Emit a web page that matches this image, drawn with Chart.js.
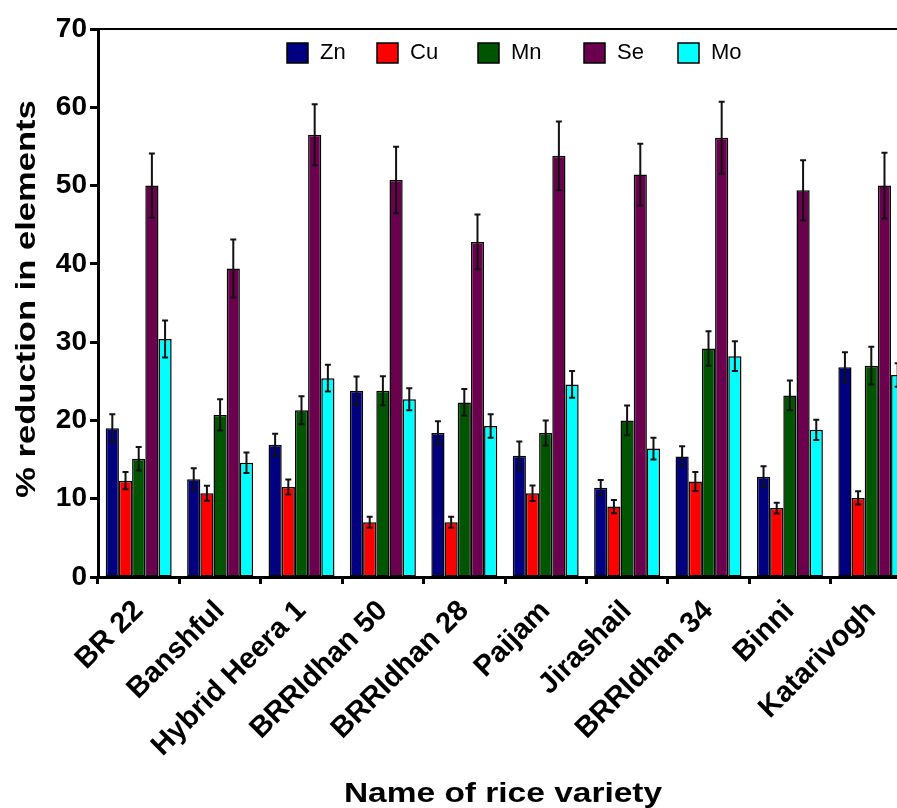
<!DOCTYPE html>
<html>
<head>
<meta charset="utf-8">
<script src="https://cdn.jsdelivr.net/npm/chart.js@4/dist/chart.umd.min.js"></script>
<style>
  html, body { margin: 0; padding: 0; background: #fff; overflow: hidden; }
  #wrap { width: 912px; height: 808px; }
</style>
</head>
<body>
<div id="wrap"><canvas id="chart" width="912" height="808"></canvas></div>
<script>
// Rice varieties on the x axis
const categories = ['BR 22', 'Banshful', 'Hybrid Heera 1', 'BRRIdhan 50', 'BRRIdhan 28',
                    'Paijam', 'Jirashail', 'BRRIdhan 34', 'Binni', 'Katarivogh'];

// % reduction per element (mean) and its error
const zn    = [19.0, 12.5, 16.9, 23.8, 18.4, 15.5, 11.4, 15.4, 12.8, 26.8];
const znErr = [1.8, 1.4, 1.4, 1.8, 1.5, 1.8, 1.0, 1.3, 1.35, 1.9];
const cu    = [12.3, 10.7, 11.5, 7.0, 7.0, 10.7, 9.0, 12.2, 8.8, 10.1];
const cuErr = [1.1, 0.95, 0.95, 0.7, 0.7, 1.0, 0.85, 1.2, 0.7, 0.85];
const mn    = [15.1, 20.7, 21.3, 23.8, 22.3, 18.4, 20.0, 29.2, 23.2, 27.0];
const mnErr = [1.5, 2.0, 1.8, 1.85, 1.7, 1.6, 1.9, 2.2, 1.9, 2.4];
const se    = [50.0, 39.4, 56.5, 50.7, 42.8, 53.8, 51.4, 56.1, 49.4, 50.0];
const seErr = [4.1, 3.7, 3.9, 4.25, 3.5, 4.4, 3.95, 4.6, 3.85, 4.2];
const mo    = [30.4, 14.6, 25.4, 22.7, 19.3, 24.6, 16.4, 28.2, 18.8, 25.8];
const moErr = [2.35, 1.3, 1.7, 1.4, 1.5, 1.7, 1.4, 1.9, 1.3, 1.5];

const seriesNames = ['Zn', 'Cu', 'Mn', 'Se', 'Mo'];
const yTicks = [0, 10, 20, 30, 40, 50, 60, 70];
const xTitle = 'Name of rice variety';
const yTitle = '% reduction in elements';

const FONT = "'Liberation Sans', Arial, Helvetica, sans-serif";
const colors = ['#000080', '#FF0000', '#005500', '#6B004F', '#00FFFF'];
const values = [zn, cu, mn, se, mo];
const errors = [znErr, cuErr, mnErr, seErr, moErr];

const datasets = seriesNames.map((name, i) => ({
  label: name,
  data: values[i],
  errors: errors[i],
  backgroundColor: colors[i],
  borderColor: '#000',
  borderWidth: 1.5,
  borderSkipped: false,
  categoryPercentage: 0.81,
  barPercentage: 1.0
}));

// Whiskers above and below each bar
const errorBars = {
  id: 'errorBars',
  afterDatasetsDraw(chart) {
    const ctx = chart.ctx;
    const y = chart.scales.y;
    ctx.save();
    ctx.strokeStyle = '#111';
    ctx.lineWidth = 2;
    chart.data.datasets.forEach((ds, di) => {
      const meta = chart.getDatasetMeta(di);
      meta.data.forEach((bar, j) => {
        const v = ds.data[j], e = ds.errors[j];
        const yTop = y.getPixelForValue(v + e);
        const yBot = y.getPixelForValue(v - e);
        const cap = 3;
        ctx.beginPath();
        ctx.moveTo(bar.x, yTop); ctx.lineTo(bar.x, yBot);
        ctx.moveTo(bar.x - cap, yTop); ctx.lineTo(bar.x + cap, yTop);
        ctx.moveTo(bar.x - cap, yBot); ctx.lineTo(bar.x + cap, yBot);
        ctx.stroke();
      });
    });
    ctx.restore();
  }
};

// Top frame line, legend inside the plot area, and the wide axis titles
const frameAndLegend = {
  id: 'frameAndLegend',
  afterDraw(chart, args, opts) {
    const ctx = chart.ctx;
    const a = chart.chartArea;
    ctx.save();
    ctx.strokeStyle = '#000';
    ctx.lineWidth = 2;
    ctx.beginPath();
    ctx.moveTo(a.left, a.top);
    ctx.lineTo(a.right, a.top);
    ctx.stroke();

    ctx.font = '22px ' + FONT;
    ctx.textBaseline = 'middle';
    ctx.textAlign = 'left';
    chart.data.datasets.forEach((ds, i) => {
      const bx = opts.boxX[i];
      const by = opts.boxY;
      ctx.fillStyle = ds.backgroundColor;
      ctx.fillRect(bx, by, 21, 20);
      ctx.lineWidth = 1.5;
      ctx.strokeStyle = '#000';
      ctx.strokeRect(bx, by, 21, 20);
      ctx.fillStyle = '#000';
      ctx.fillText(ds.label, bx + 33, by + 10);
    });

    // axis titles, set in a stretched bold face
    ctx.fillStyle = '#000';
    ctx.font = 'bold 27px ' + FONT;
    ctx.textAlign = 'center';
    ctx.textBaseline = 'alphabetic';

    ctx.save();
    ctx.translate(opts.xTitleX, opts.xTitleBaseline);
    ctx.scale(opts.xStretch, 1);
    ctx.fillText(xTitle, 0, 0);
    ctx.restore();

    ctx.save();
    ctx.translate(opts.yTitleBaseline, (a.top + a.bottom) / 2 - 4);
    ctx.rotate(-Math.PI / 2);
    ctx.scale(opts.yStretch, 1);
    ctx.fillText(yTitle, 0, 0);
    ctx.restore();

    ctx.restore();
  }
};

new Chart(document.getElementById('chart'), {
  type: 'bar',
  data: { labels: categories, datasets },
  plugins: [errorBars, frameAndLegend],
  options: {
    responsive: false,
    animation: false,
    layout: { padding: { top: 29, right: 0, bottom: 0, left: 0 } },
    plugins: {
      legend: { display: false },
      tooltip: { enabled: false },
      frameAndLegend: {
        boxX: [287, 377, 478, 584, 678], boxY: 43,
        xTitleX: 503, xTitleBaseline: 802, xStretch: 1.24,
        yTitleBaseline: 35, yStretch: 1.28
      }
    },
    scales: {
      x: {
        afterFit(scale) { scale.height = 231; },
        grid: { drawOnChartArea: false, drawTicks: true, tickLength: 7, tickWidth: 3, tickColor: '#000' },
        border: { display: true, color: '#000', width: 3 },
        ticks: {
          autoSkip: false, minRotation: 45, maxRotation: 45, padding: 10,
          color: '#000', font: { family: FONT, size: 29, weight: 'bold' }
        },
        title: { display: false }
      },
      y: {
        min: 0, max: 70,
        afterFit(scale) { scale.width = 98; },
        afterBuildTicks(scale) { scale.ticks = yTicks.map(v => ({ value: v })); },
        grid: { drawOnChartArea: false, drawTicks: true, tickLength: 8, tickWidth: 3, tickColor: '#000' },
        border: { display: true, color: '#000', width: 3 },
        ticks: { color: '#000', padding: 3, font: { family: FONT, size: 28, weight: 'bold' } },
        title: { display: false }
      }
    }
  }
});
</script>
</body>
</html>
